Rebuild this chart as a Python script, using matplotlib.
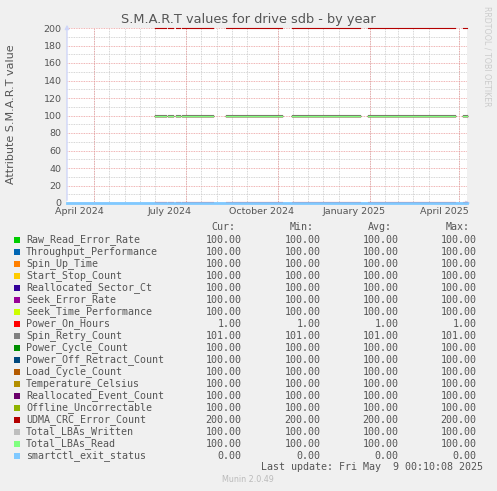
import numpy as np
import pandas as pd
import matplotlib
matplotlib.use('Agg')
import matplotlib.pyplot as plt
import matplotlib.dates as mdates
from matplotlib.patches import Rectangle

W, H = 497, 491

# munin "by year" graph = last 400 days up to the last update
start = pd.Timestamp('2024-04-04 00:10')
end = pd.Timestamp('2025-05-09 00:10')

names = ['Raw_Read_Error_Rate', 'Throughput_Performance', 'Spin_Up_Time', 'Start_Stop_Count',
         'Reallocated_Sector_Ct', 'Seek_Error_Rate', 'Seek_Time_Performance', 'Power_On_Hours',
         'Spin_Retry_Count', 'Power_Cycle_Count', 'Power_Off_Retract_Count', 'Load_Cycle_Count',
         'Temperature_Celsius', 'Reallocated_Event_Count', 'Offline_Uncorrectable',
         'UDMA_CRC_Error_Count', 'Total_LBAs_Written', 'Total_LBAs_Read', 'smartctl_exit_status']
colors = ['#00CC00', '#0066B3', '#FF8000', '#FFCC00', '#330099', '#990099', '#CCFF00', '#FF0000',
          '#808080', '#008F00', '#00487D', '#B35A00', '#B38F00', '#6B006B', '#8FB300',
          '#B30000', '#BEBEBE', '#80FF80', '#80C9FF']
cur = [100, 100, 100, 100, 100, 100, 100, 1, 101, 100, 100, 100, 100, 100, 100, 200, 100, 100, 0]
mins = [100, 100, 100, 100, 100, 100, 100, 1, 101, 100, 100, 100, 100, 100, 100, 200, 100, 100, 0]
avgs = [100, 100, 100, 100, 100, 100, 100, 1, 101, 100, 100, 100, 100, 100, 100, 200, 100, 100, 0]
maxs = [100, 100, 100, 100, 100, 100, 100, 1, 101, 100, 100, 100, 100, 100, 100, 200, 100, 100, 0]

# periods where the attribute values were recorded
seg_start = ['2024-07-01', '2024-07-14', '2024-07-22', '2024-07-28',
             '2024-09-10', '2024-11-15', '2025-01-30', '2025-05-05']
seg_end = ['2024-07-12', '2024-07-19', '2024-07-26', '2024-08-28',
           '2024-11-05', '2025-01-22', '2025-04-27', '2025-05-09']
full_range = ['smartctl_exit_status']

label_dates = ['2024-04-16', '2024-07-16', '2024-10-16', '2025-01-16', '2025-04-16']
label_text = ['April 2024', 'July 2024', 'October 2024', 'January 2025', 'April 2025']
major_dates = ['2024-05-01', '2024-08-01', '2024-11-01', '2025-02-01', '2025-05-01']

TXT = '#555555'
AXIS = '#CFD6F8'

days = pd.date_range(start, end, freq='D')
day0 = days.normalize()
have = np.zeros(len(days), bool)
for a, b in zip(seg_start, seg_end):
    have |= (day0 >= pd.Timestamp(a)) & (day0 <= pd.Timestamp(b))


def fx(x):
    return x / W


def fy(y):
    return 1 - y / H


fig = plt.figure(figsize=(W / 100, H / 100), dpi=100, facecolor='#F0F0F0')
ax = fig.add_axes([fx(67), fy(203), 400 / W, 175 / H])
ax.set_facecolor('white')

for n, c, v in zip(names, colors, cur):
    if n in full_range:
        # exit status sits on the x axis and covers the low values
        ax.plot(days, np.full(len(days), v, float), color=c, lw=2.0, clip_on=False, zorder=3)
    else:
        ax.plot(days, np.where(have, v, np.nan), color=c, lw=0.8, clip_on=False, zorder=3)

ax.set_xlim(start, end)
ax.set_ylim(0, 200)

# grid like rrdtool: gray dotted minor, red dotted major
ax.set_yticks(range(0, 201, 20))
ax.set_yticks(range(0, 201, 10), minor=True)
ax.grid(True, which='minor', axis='y', color='#c8c8c8', ls=(0, (1, 1)), lw=0.6)
ax.grid(True, which='major', axis='y', color='#eb9a9a', ls=(0, (1, 1)), lw=0.6)
ax.xaxis.set_minor_locator(mdates.DayLocator(bymonthday=[1, 16]))
ax.grid(True, which='minor', axis='x', color='#c8c8c8', ls=(0, (1, 1)), lw=0.6)
for d in major_dates:
    ax.axvline(pd.Timestamp(d), color='#eb9a9a', ls=(0, (1, 1)), lw=0.6, zorder=1.5)
ax.set_axisbelow(True)

ax.set_xticks([pd.Timestamp(d) for d in label_dates])
ax.set_xticklabels(label_text)
ax.tick_params(axis='both', which='both', length=0, labelsize=6.8, colors=TXT)
ax.tick_params(axis='x', pad=3)
ax.tick_params(axis='y', pad=4)
for s in ax.spines.values():
    s.set_visible(False)

# axes with arrows
ax.annotate('', xy=(0, 1.035), xytext=(0, 0), xycoords='axes fraction',
            arrowprops=dict(arrowstyle='-|>', color=AXIS, lw=1, mutation_scale=6), zorder=2)
ax.annotate('', xy=(1.016, 0), xytext=(0, 0), xycoords='axes fraction',
            arrowprops=dict(arrowstyle='-|>', color=AXIS, lw=1, mutation_scale=6), zorder=2)

fig.text(fx(248), fy(19.5), 'S.M.A.R.T values for drive sdb - by year', ha='center', va='center',
         fontsize=9.3, color=TXT)
fig.text(fx(11), fy(114), 'Attribute S.M.A.R.T value', rotation=90, ha='center', va='center',
         fontsize=8, color=TXT)
fig.text(fx(487), fy(56), 'RRDTOOL / TOBI OETIKER', rotation=270, ha='center', va='center',
         fontsize=5.7, color='#cccccc')

# legend table
mono = 'DejaVu Sans Mono'
fs = 7.2
head_y = 227.3
for lab, xr in zip(['Cur:', 'Min:', 'Avg:', 'Max:'], [235, 314, 392, 470]):
    fig.text(fx(xr), fy(head_y), lab, ha='right', va='center', family=mono, fontsize=fs, color=TXT)

for i, n in enumerate(names):
    y = 239.7 + 12 * i
    fig.add_artist(Rectangle((fx(14), fy(y + 3)), 6 / W, 6 / H, transform=fig.transFigure,
                             facecolor=colors[i], edgecolor='none'))
    fig.text(fx(26), fy(y), n, ha='left', va='center', family=mono, fontsize=fs, color=TXT)
    for val, xr in zip([cur[i], mins[i], avgs[i], maxs[i]], [241.7, 320.7, 398.3, 476.7]):
        fig.text(fx(xr), fy(y), f'{val:.2f}', ha='right', va='center', family=mono,
                 fontsize=fs, color=TXT)

fig.text(fx(482.7), fy(467.3), 'Last update: Fri May  9 00:10:08 2025', ha='right', va='center',
         family=mono, fontsize=fs, color=TXT)
fig.text(fx(248), fy(479.3), 'Munin 2.0.49', ha='center', va='center', fontsize=5.8, color='#bbbbbb')

fig.savefig('out.png', dpi=100, facecolor=fig.get_facecolor())
